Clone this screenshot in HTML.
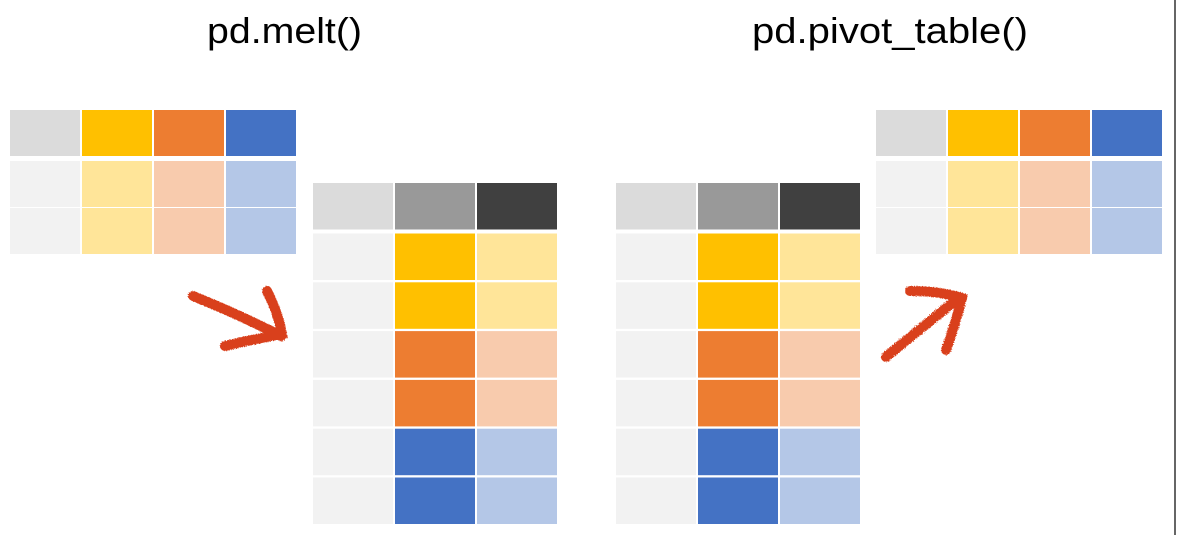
<!DOCTYPE html>
<html><head><meta charset="utf-8"><style>
html,body{margin:0;padding:0;background:#fff;}
svg{display:block;}
</style></head><body>
<svg id="s" width="1177" height="535" viewBox="0 0 1177 535" xmlns="http://www.w3.org/2000/svg">
<defs>
<filter id="rough" x="-10%" y="-10%" width="120%" height="120%">
<feTurbulence type="fractalNoise" baseFrequency="0.9" numOctaves="2" result="n"/>
<feDisplacementMap in="SourceGraphic" in2="n" scale="3"/>
</filter>
</defs>
<rect x="1174" y="0" width="2" height="535" fill="#666"/>
<text x="207" y="43" font-family="Liberation Sans, sans-serif" font-size="36" textLength="155" lengthAdjust="spacingAndGlyphs" fill="#000">pd.melt()</text>
<text x="752" y="43" font-family="Liberation Sans, sans-serif" font-size="36" textLength="276" lengthAdjust="spacingAndGlyphs" fill="#000">pd.pivot_table()</text>
<g id="tables"></g>
<g filter="url(#rough)" stroke="#d9411e" stroke-width="10" stroke-linecap="round" fill="none">
<path d="M193 296 Q240 315 281 336"/>
<path d="M267 291 Q278 312 282 334 Q250 340 225 346"/>
<path d="M886 357 Q925 325 960 297"/>
<path d="M910 291 Q940 291 962 298 Q955 325 946 350"/>
</g>
</svg>
<script>
const C={lg:'#dbdbdb',xl:'#f2f2f2',y:'#ffc000',yl:'#ffe599',o:'#ed7d31',ol:'#f8cbad',b:'#4472c4',bl:'#b4c7e7',g:'#999999',d:'#404040'};
const wideHeader=['lg','y','o','b'];
const wideRows=[['xl','yl','ol','bl'],['xl','yl','ol','bl']];
const longHeader=['lg','g','d'];
const longRows=[['xl','y','yl'],['xl','y','yl'],['xl','o','ol'],['xl','o','ol'],['xl','b','bl'],['xl','b','bl']];
const NS='http://www.w3.org/2000/svg';
const g=document.getElementById('tables');
function table(name,x0,y0,cw,cgap,rh,rpitch,hdrGap,header,rows){
  const all=[header].concat(rows);
  all.forEach((row,ri)=>{
    const y=ri===0?y0:y0+rh+hdrGap+(ri-1)*rpitch;
    row.forEach((c,ci)=>{
      const r=document.createElementNS(NS,'rect');
      r.setAttribute('x',x0+ci*(cw+cgap));r.setAttribute('y',y);
      r.setAttribute('width',cw);r.setAttribute('height',rh);
      r.setAttribute('fill',C[c]);
      
      
      g.appendChild(r);
    });
  });
}
table('wide-table-left',10,110,70,2,46,47,5,wideHeader,wideRows);
table('wide-table-right',876,110,70,2,46,47,5,wideHeader,wideRows);
table('long-table-left',313,183,80,2,46.5,48.8,4,longHeader,longRows);
table('long-table-right',616,183,80,2,46.5,48.8,4,longHeader,longRows);
</script>
</body></html>
